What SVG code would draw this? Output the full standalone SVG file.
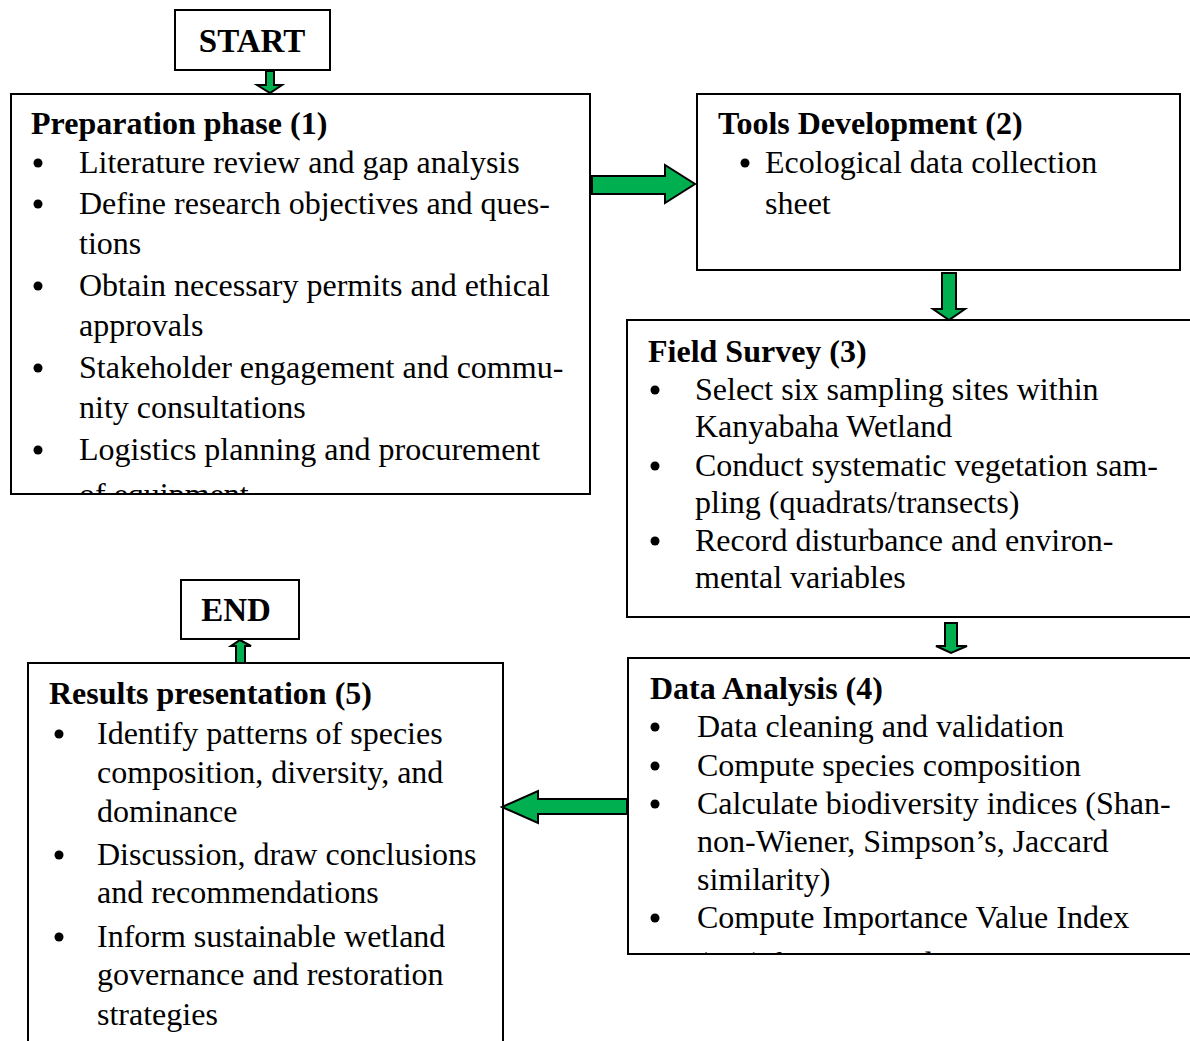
<svg xmlns="http://www.w3.org/2000/svg" width="1190" height="1041" viewBox="0 0 1190 1041">
  <style>
    .box { fill: #ffffff; stroke: #000000; stroke-width: 2; }
    .t { font-family: "Liberation Serif", "Times New Roman", serif; font-size: 32px; fill: #000000; }
    .h { font-weight: bold; }
    .big { font-size: 33px; font-weight: bold; }
    .dot { fill: #000000; }
    .arrow { fill: #00B050; stroke: #000000; stroke-width: 2; stroke-linejoin: miter; }
  </style>
  <defs>
    <clipPath id="clip-prep"><rect x="12" y="95" width="577" height="398"/></clipPath>
    <clipPath id="clip-analysis"><rect x="629" y="659" width="570" height="294"/></clipPath>
  </defs>

  <!-- terminal: START -->
  <g id="start">
    <rect class="box" x="175" y="10" width="155" height="60"/>
    <text class="t big" x="252" y="52" text-anchor="middle">START</text>
  </g>

  <!-- step 1 -->
  <g id="preparation">
    <rect class="box" x="11" y="94" width="579" height="400"/>
    <g clip-path="url(#clip-prep)">
      <text class="t h" x="31" y="134">Preparation phase (1)</text>
      <circle class="dot" cx="38" cy="163" r="4.5"/>
      <text class="t" x="79" y="173">Literature review and gap analysis</text>
      <circle class="dot" cx="38" cy="204" r="4.5"/>
      <text class="t" x="79" y="214">Define research objectives and ques-</text>
      <text class="t" x="79" y="254">tions</text>
      <circle class="dot" cx="38" cy="286" r="4.5"/>
      <text class="t" x="79" y="296">Obtain necessary permits and ethical</text>
      <text class="t" x="79" y="336">approvals</text>
      <circle class="dot" cx="38" cy="368" r="4.5"/>
      <text class="t" x="79" y="378">Stakeholder engagement and commu-</text>
      <text class="t" x="79" y="418">nity consultations</text>
      <circle class="dot" cx="38" cy="450" r="4.5"/>
      <text class="t" x="79" y="460">Logistics planning and procurement</text>
      <text class="t" x="79" y="505">of equipment</text>
    </g>
  </g>

  <!-- step 2 -->
  <g id="tools">
    <rect class="box" x="697" y="94" width="483" height="176"/>
    <text class="t h" x="718" y="134">Tools Development (2)</text>
    <circle class="dot" cx="745" cy="163" r="4.5"/>
    <text class="t" x="765" y="173">Ecological data collection</text>
    <text class="t" x="765" y="214">sheet</text>
  </g>

  <!-- step 3 -->
  <g id="field-survey">
    <rect class="box" x="627" y="320" width="570" height="297"/>
    <text class="t h" x="648" y="362">Field Survey (3)</text>
    <circle class="dot" cx="655" cy="390" r="4.5"/>
    <text class="t" x="695" y="400">Select six sampling sites within</text>
    <text class="t" x="695" y="437">Kanyabaha Wetland</text>
    <circle class="dot" cx="655" cy="466" r="4.5"/>
    <text class="t" x="695" y="476">Conduct systematic vegetation sam-</text>
    <text class="t" x="695" y="513">pling (quadrats/transects)</text>
    <circle class="dot" cx="655" cy="541" r="4.5"/>
    <text class="t" x="695" y="551">Record disturbance and environ-</text>
    <text class="t" x="695" y="588">mental variables</text>
  </g>

  <!-- step 4 -->
  <g id="data-analysis">
    <rect class="box" x="628" y="658" width="570" height="296"/>
    <g clip-path="url(#clip-analysis)">
      <text class="t h" x="650" y="699">Data Analysis (4)</text>
      <circle class="dot" cx="655" cy="727" r="4.5"/>
      <text class="t" x="697" y="737">Data cleaning and validation</text>
      <circle class="dot" cx="655" cy="766" r="4.5"/>
      <text class="t" x="697" y="776">Compute species composition</text>
      <circle class="dot" cx="655" cy="804" r="4.5"/>
      <text class="t" x="697" y="814">Calculate biodiversity indices (Shan-</text>
      <text class="t" x="697" y="852">non-Wiener, Simpson’s, Jaccard</text>
      <text class="t" x="697" y="890">similarity)</text>
      <circle class="dot" cx="655" cy="918" r="4.5"/>
      <text class="t" x="697" y="928">Compute Importance Value Index</text>
      <text class="t" x="697" y="974">(IVI) for species dominance</text>
    </g>
  </g>

  <!-- step 5 -->
  <g id="results">
    <rect class="box" x="28" y="663" width="475" height="400"/>
    <text class="t h" x="49" y="704">Results presentation (5)</text>
    <circle class="dot" cx="59" cy="734" r="4.5"/>
    <text class="t" x="97" y="744">Identify patterns of species</text>
    <text class="t" x="97" y="783">composition, diversity, and</text>
    <text class="t" x="97" y="822">dominance</text>
    <circle class="dot" cx="59" cy="855" r="4.5"/>
    <text class="t" x="97" y="865">Discussion, draw conclusions</text>
    <text class="t" x="97" y="903">and recommendations</text>
    <circle class="dot" cx="59" cy="937" r="4.5"/>
    <text class="t" x="97" y="947">Inform sustainable wetland</text>
    <text class="t" x="97" y="985">governance and restoration</text>
    <text class="t" x="97" y="1025">strategies</text>
  </g>

  <!-- terminal: END -->
  <g id="end">
    <rect class="box" x="181" y="580" width="118" height="59"/>
    <text class="t big" x="236" y="621" text-anchor="middle">END</text>
  </g>

  <!-- block arrows between steps -->
  <g id="connectors">
    <polygon class="arrow" points="266,71 274,71 274,85 282,85 270,93 257,85 266,85"/>
    <polygon class="arrow" points="592,176 665,176 665,165 695,184 665,203 665,194 592,194"/>
    <polygon class="arrow" points="942,273 956,273 956,309 965,309 949,320 933,309 942,309"/>
    <polygon class="arrow" points="945,623 957,623 957,646 967,646 951,653 936,646 945,646"/>
    <polygon class="arrow" points="627,799 538,799 538,791 502,807 538,823 538,814 627,814"/>
    <polygon class="arrow" points="236,663 245,663 245,646 251,646 240,640 231,646 236,646"/>
  </g>
</svg>
